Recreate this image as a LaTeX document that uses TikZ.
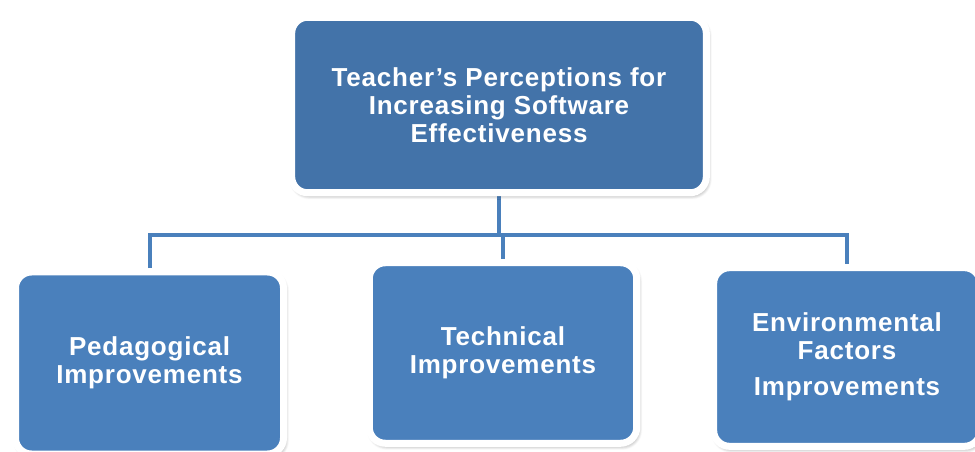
\documentclass[tikz,border=0pt]{standalone}
\usepackage{fontspec}
\setmainfont{Liberation Sans}[LetterSpace=3]
\usepackage{tikz}
\usetikzlibrary{positioning,shadows.blur,backgrounds}
\definecolor{topblue}{HTML}{4373A9}
\definecolor{boxblue}{HTML}{4A80BC}

\begin{document}
\begin{tikzpicture}[x=0.75pt,y=-0.75pt,
    every node/.style={align=center,text=white,font=\bfseries\fontsize{19.5}{21}\selectfont},
    card/.style={draw=white,line width=5.25pt,rounded corners=12pt,
      blur shadow={shadow xshift=1.2pt,shadow yshift=-2pt,shadow blur radius=3pt,shadow blur steps=8,shadow opacity=45}},
    link/.style={draw=boxblue,line width=3pt}]
    \clip (0,0) rectangle (975,452);
    \node[card,fill=topblue,minimum width=311pt,minimum height=131.6pt] (head) at (499,105)
      {Teacher's Perceptions for\\Increasing Software\\Effectiveness};
    \node[card,fill=boxblue,minimum width=201pt,minimum height=136.5pt] (ped) at (149.5,363)
      {Pedagogical\\Improvements};
    \node[card,fill=boxblue,minimum width=200.6pt,minimum height=135.4pt] (tech) at (503,353)
      {Technical\\Improvements};
    \node[card,fill=boxblue,minimum width=200pt,minimum height=134pt] (env) at (847,357)
      {Environmental\\Factors\\[6pt]Improvements};
    \coordinate (bus) at (499,235);
    \begin{scope}[on background layer]
      \draw[link] (head.south) -- (bus);
      \draw[link] (ped.north) |- (bus);
      \draw[link] (env.north) |- (bus);
      \draw[link] (tech.north) -- (tech.north |- bus);
    \end{scope}
  \end{tikzpicture}
\end{document}
